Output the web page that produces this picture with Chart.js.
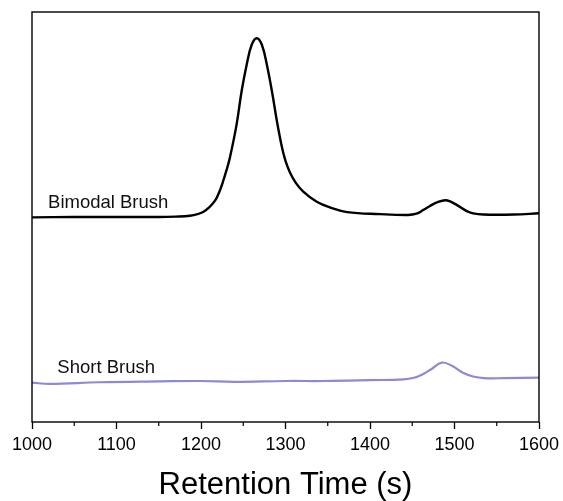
<!DOCTYPE html>
<html>
<head>
<meta charset="utf-8">
<script src="https://cdn.jsdelivr.net/npm/chart.js@4"></script>
<style>
  html, body { margin: 0; padding: 0; background: #fff; }
  #wrap { width: 563px; height: 501px; }
</style>
</head>
<body>
<div id="wrap"><canvas id="myChart"></canvas></div>
<script>
/* GPC traces: retention time (s) vs detector signal (a.u.) */

// Bimodal brush trace
const bimodalTime = [1000, 1050, 1100, 1150, 1170, 1187, 1196, 1203, 1210, 1217, 1222, 1226, 1230, 1234, 1242, 1248,
  1254, 1260, 1266, 1272, 1278, 1284, 1290, 1296, 1300, 1305, 1312, 1321, 1337, 1353, 1373, 1412, 1445, 1455, 1463,
  1471, 1480, 1489, 1496, 1503, 1514, 1522, 1534, 1570, 1600];
const bimodalSignal = [49.9, 50.0, 50.0, 50.0, 50.1, 50.3, 50.7, 51.3, 52.4, 54.1, 56.3, 58.6, 61.3, 64.3, 72.4, 80.6,
  87.1, 92.0, 93.6, 92.0, 87.1, 80.6, 73.2, 66.8, 63.7, 61.0, 58.4, 56.2, 53.7, 52.3, 51.2, 50.7, 50.5, 50.8, 51.7,
  52.7, 53.6, 54.1, 53.7, 52.9, 51.5, 50.9, 50.6, 50.6, 50.9];

// Short brush trace
const shortTime = [1000, 1021, 1080, 1150, 1200, 1240, 1300, 1345, 1400, 1440, 1452, 1462, 1472, 1485, 1498,
  1510, 1522, 1535, 1560, 1600];
const shortSignal = [9.6, 9.3, 9.7, 9.9, 10.0, 9.8, 10.0, 10.0, 10.2, 10.4, 10.8, 11.6, 12.8, 14.5, 13.6,
  12.0, 11.1, 10.7, 10.7, 10.8];

// axis
const xMin = 1000, xMax = 1600, xStep = 100, xMinorStep = 50;
const xTitle = 'Retention Time (s)';

// trace names, written next to each trace
const traceNames = ['Bimodal Brush', 'Short Brush'];
const traceNameAt = [[1019, 53.4], [1030, 13.3]];

const FONT = "'Liberation Sans', Arial, Helvetica, sans-serif";

function toPoints(xs, ys) {
  return xs.map((x, i) => ({ x: x, y: ys[i] }));
}

// frame around plot + minor ticks + trace names
const framePlugin = {
  id: 'frame',
  afterDraw(chart) {
    const { ctx, chartArea: a, scales } = chart;
    ctx.save();
    ctx.strokeStyle = '#000';
    ctx.lineWidth = 1.4;
    ctx.strokeRect(a.left, a.top, a.right - a.left, a.bottom - a.top);

    // minor ticks
    ctx.lineWidth = 1.2;
    for (let v = xMin + xMinorStep; v < xMax; v += xStep) {
      const px = scales.x.getPixelForValue(v);
      ctx.beginPath();
      ctx.moveTo(px, a.bottom);
      ctx.lineTo(px, a.bottom + 4);
      ctx.stroke();
    }

    ctx.fillStyle = '#111';
    ctx.font = '18.5px ' + FONT;
    ctx.textAlign = 'left';
    ctx.textBaseline = 'middle';
    traceNames.forEach((t, i) => {
      ctx.fillText(t, scales.x.getPixelForValue(traceNameAt[i][0]), scales.y.getPixelForValue(traceNameAt[i][1]));
    });
    ctx.restore();
  }
};

const ctx = document.getElementById('myChart').getContext('2d');

const chart = new Chart(ctx, {
  type: 'line',
  data: {
    datasets: [
      {
        label: traceNames[0],
        data: toPoints(bimodalTime, bimodalSignal),
        borderColor: '#000',
        borderWidth: 2.4,
        pointRadius: 0,
        tension: 0.4
      },
      {
        label: traceNames[1],
        data: toPoints(shortTime, shortSignal),
        borderColor: '#8e89d3',
        borderWidth: 2.2,
        pointRadius: 0,
        tension: 0.4
      }
    ]
  },
  options: {
    animation: false,
    responsive: true,
    maintainAspectRatio: false,
    layout: { padding: { left: 32, right: 24, top: 12, bottom: 0 } },
    plugins: {
      legend: { display: false },
      tooltip: { enabled: false }
    },
    scales: {
      x: {
        type: 'linear',
        min: xMin,
        max: xMax,
        ticks: {
          stepSize: xStep,
          color: '#000',
          padding: 5,
          font: { family: FONT, size: 18 },
          maxRotation: 0,
          callback: (v) => String(v)
        },
        grid: {
          drawOnChartArea: false,
          drawTicks: true,
          tickLength: 7,
          tickColor: '#000',
          tickWidth: 1.3
        },
        border: { display: false },
        title: {
          display: true,
          text: xTitle,
          color: '#000',
          font: { family: FONT, size: 31, lineHeight: 1 },
          padding: { top: 0, bottom: 0 }
        },
        afterFit(scale) {
          // end labels fit inside the layout padding
          scale.height = 79;
          scale.paddingLeft = 0;
          scale.paddingRight = 0;
        }
      },
      y: {
        display: false,
        min: 0,
        max: 100
      }
    }
  },
  plugins: [framePlugin]
});
</script>
</body>
</html>
